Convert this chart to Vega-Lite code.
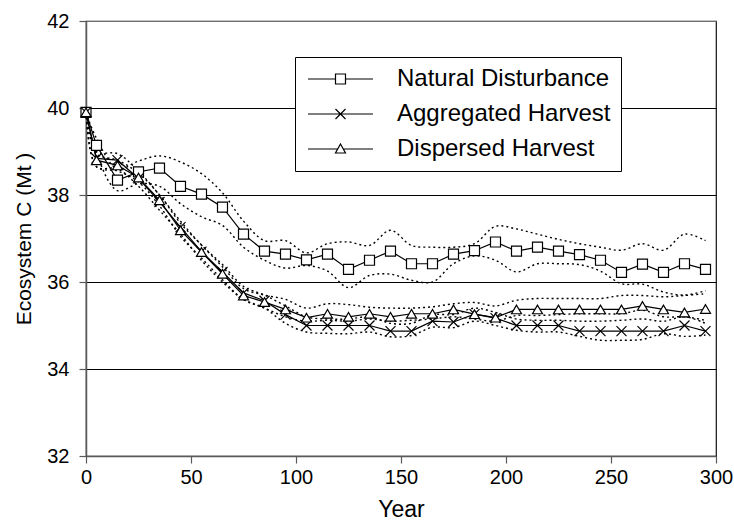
{
  "$schema": "https://vega.github.io/schema/vega-lite/v6.json",
  "width": 630,
  "height": 435,
  "autosize": {"type": "none"},
  "padding": {"left": 86, "top": 21, "right": 18, "bottom": 66},
  "background": "white",
  "config": {
    "view": {"stroke": "#111", "strokeWidth": 1.2},
    "font": "Liberation Sans",
    "axis": {
      "labelFont": "Liberation Sans",
      "titleFont": "Liberation Sans",
      "labelColor": "black",
      "titleColor": "black",
      "titleFontWeight": "normal",
      "domainColor": "#5a5a5a",
      "domainWidth": 1.5,
      "tickColor": "#5a5a5a",
      "tickWidth": 1.2
    }
  },
  "datasets": {
    "series": [
      {"year": 0, "series": "Natural Disturbance", "c": 39.9},
      {"year": 5, "series": "Natural Disturbance", "c": 39.14},
      {"year": 15, "series": "Natural Disturbance", "c": 38.34},
      {"year": 25, "series": "Natural Disturbance", "c": 38.53},
      {"year": 35, "series": "Natural Disturbance", "c": 38.62},
      {"year": 45, "series": "Natural Disturbance", "c": 38.2},
      {"year": 55, "series": "Natural Disturbance", "c": 38.02},
      {"year": 65, "series": "Natural Disturbance", "c": 37.72},
      {"year": 75, "series": "Natural Disturbance", "c": 37.1},
      {"year": 85, "series": "Natural Disturbance", "c": 36.71},
      {"year": 95, "series": "Natural Disturbance", "c": 36.64},
      {"year": 105, "series": "Natural Disturbance", "c": 36.51},
      {"year": 115, "series": "Natural Disturbance", "c": 36.64},
      {"year": 125, "series": "Natural Disturbance", "c": 36.29},
      {"year": 135, "series": "Natural Disturbance", "c": 36.5},
      {"year": 145, "series": "Natural Disturbance", "c": 36.71},
      {"year": 155, "series": "Natural Disturbance", "c": 36.42},
      {"year": 165, "series": "Natural Disturbance", "c": 36.42},
      {"year": 175, "series": "Natural Disturbance", "c": 36.64},
      {"year": 185, "series": "Natural Disturbance", "c": 36.72},
      {"year": 195, "series": "Natural Disturbance", "c": 36.92},
      {"year": 205, "series": "Natural Disturbance", "c": 36.71},
      {"year": 215, "series": "Natural Disturbance", "c": 36.8},
      {"year": 225, "series": "Natural Disturbance", "c": 36.71},
      {"year": 235, "series": "Natural Disturbance", "c": 36.63},
      {"year": 245, "series": "Natural Disturbance", "c": 36.5},
      {"year": 255, "series": "Natural Disturbance", "c": 36.22},
      {"year": 265, "series": "Natural Disturbance", "c": 36.41},
      {"year": 275, "series": "Natural Disturbance", "c": 36.22},
      {"year": 285, "series": "Natural Disturbance", "c": 36.42},
      {"year": 295, "series": "Natural Disturbance", "c": 36.29},

      {"year": 0, "series": "Aggregated Harvest", "c": 39.9},
      {"year": 5, "series": "Aggregated Harvest", "c": 38.84},
      {"year": 15, "series": "Aggregated Harvest", "c": 38.8},
      {"year": 25, "series": "Aggregated Harvest", "c": 38.38},
      {"year": 35, "series": "Aggregated Harvest", "c": 37.84},
      {"year": 45, "series": "Aggregated Harvest", "c": 37.26},
      {"year": 55, "series": "Aggregated Harvest", "c": 36.7},
      {"year": 65, "series": "Aggregated Harvest", "c": 36.23},
      {"year": 75, "series": "Aggregated Harvest", "c": 35.75},
      {"year": 85, "series": "Aggregated Harvest", "c": 35.57},
      {"year": 95, "series": "Aggregated Harvest", "c": 35.25},
      {"year": 105, "series": "Aggregated Harvest", "c": 35.0},
      {"year": 115, "series": "Aggregated Harvest", "c": 35.0},
      {"year": 125, "series": "Aggregated Harvest", "c": 35.0},
      {"year": 135, "series": "Aggregated Harvest", "c": 35.0},
      {"year": 145, "series": "Aggregated Harvest", "c": 34.87},
      {"year": 155, "series": "Aggregated Harvest", "c": 34.87},
      {"year": 165, "series": "Aggregated Harvest", "c": 35.1},
      {"year": 175, "series": "Aggregated Harvest", "c": 35.08},
      {"year": 185, "series": "Aggregated Harvest", "c": 35.26},
      {"year": 195, "series": "Aggregated Harvest", "c": 35.17},
      {"year": 205, "series": "Aggregated Harvest", "c": 35.0},
      {"year": 215, "series": "Aggregated Harvest", "c": 35.0},
      {"year": 225, "series": "Aggregated Harvest", "c": 35.0},
      {"year": 235, "series": "Aggregated Harvest", "c": 34.87},
      {"year": 245, "series": "Aggregated Harvest", "c": 34.87},
      {"year": 255, "series": "Aggregated Harvest", "c": 34.87},
      {"year": 265, "series": "Aggregated Harvest", "c": 34.87},
      {"year": 275, "series": "Aggregated Harvest", "c": 34.87},
      {"year": 285, "series": "Aggregated Harvest", "c": 35.0},
      {"year": 295, "series": "Aggregated Harvest", "c": 34.87},

      {"year": 0, "series": "Dispersed Harvest", "c": 39.9},
      {"year": 5, "series": "Dispersed Harvest", "c": 38.8},
      {"year": 15, "series": "Dispersed Harvest", "c": 38.68},
      {"year": 25, "series": "Dispersed Harvest", "c": 38.4},
      {"year": 35, "series": "Dispersed Harvest", "c": 37.88},
      {"year": 45, "series": "Dispersed Harvest", "c": 37.19},
      {"year": 55, "series": "Dispersed Harvest", "c": 36.69},
      {"year": 65, "series": "Dispersed Harvest", "c": 36.19},
      {"year": 75, "series": "Dispersed Harvest", "c": 35.69},
      {"year": 85, "series": "Dispersed Harvest", "c": 35.54},
      {"year": 95, "series": "Dispersed Harvest", "c": 35.37},
      {"year": 105, "series": "Dispersed Harvest", "c": 35.18},
      {"year": 115, "series": "Dispersed Harvest", "c": 35.27},
      {"year": 125, "series": "Dispersed Harvest", "c": 35.2},
      {"year": 135, "series": "Dispersed Harvest", "c": 35.27},
      {"year": 145, "series": "Dispersed Harvest", "c": 35.2},
      {"year": 155, "series": "Dispersed Harvest", "c": 35.27},
      {"year": 165, "series": "Dispersed Harvest", "c": 35.27},
      {"year": 175, "series": "Dispersed Harvest", "c": 35.37},
      {"year": 185, "series": "Dispersed Harvest", "c": 35.26},
      {"year": 195, "series": "Dispersed Harvest", "c": 35.18},
      {"year": 205, "series": "Dispersed Harvest", "c": 35.37},
      {"year": 215, "series": "Dispersed Harvest", "c": 35.37},
      {"year": 225, "series": "Dispersed Harvest", "c": 35.37},
      {"year": 235, "series": "Dispersed Harvest", "c": 35.37},
      {"year": 245, "series": "Dispersed Harvest", "c": 35.37},
      {"year": 255, "series": "Dispersed Harvest", "c": 35.37},
      {"year": 265, "series": "Dispersed Harvest", "c": 35.45},
      {"year": 275, "series": "Dispersed Harvest", "c": 35.37},
      {"year": 285, "series": "Dispersed Harvest", "c": 35.3},
      {"year": 295, "series": "Dispersed Harvest", "c": 35.38}
    ],
    "bands": [
      {"year": 0, "band": "ND upper", "c": 39.9}, {"year": 5, "band": "ND upper", "c": 39.3}, {"year": 15, "band": "ND upper", "c": 38.6}, {"year": 25, "band": "ND upper", "c": 38.78}, {"year": 35, "band": "ND upper", "c": 38.9}, {"year": 45, "band": "ND upper", "c": 38.76}, {"year": 55, "band": "ND upper", "c": 38.49}, {"year": 65, "band": "ND upper", "c": 38.05}, {"year": 75, "band": "ND upper", "c": 37.4}, {"year": 85, "band": "ND upper", "c": 36.95}, {"year": 95, "band": "ND upper", "c": 36.95}, {"year": 105, "band": "ND upper", "c": 36.67}, {"year": 115, "band": "ND upper", "c": 36.88}, {"year": 125, "band": "ND upper", "c": 36.92}, {"year": 135, "band": "ND upper", "c": 36.84}, {"year": 145, "band": "ND upper", "c": 37.19}, {"year": 155, "band": "ND upper", "c": 36.84}, {"year": 165, "band": "ND upper", "c": 36.8}, {"year": 175, "band": "ND upper", "c": 36.8}, {"year": 185, "band": "ND upper", "c": 36.88}, {"year": 195, "band": "ND upper", "c": 37.28}, {"year": 205, "band": "ND upper", "c": 37.22}, {"year": 215, "band": "ND upper", "c": 37.1}, {"year": 225, "band": "ND upper", "c": 36.98}, {"year": 235, "band": "ND upper", "c": 36.88}, {"year": 245, "band": "ND upper", "c": 36.8}, {"year": 255, "band": "ND upper", "c": 36.73}, {"year": 265, "band": "ND upper", "c": 36.88}, {"year": 275, "band": "ND upper", "c": 36.73}, {"year": 285, "band": "ND upper", "c": 37.1}, {"year": 295, "band": "ND upper", "c": 36.95},

      {"year": 0, "band": "ND lower", "c": 39.9}, {"year": 5, "band": "ND lower", "c": 38.95}, {"year": 15, "band": "ND lower", "c": 38.1}, {"year": 25, "band": "ND lower", "c": 38.26}, {"year": 35, "band": "ND lower", "c": 38.2}, {"year": 45, "band": "ND lower", "c": 37.8}, {"year": 55, "band": "ND lower", "c": 37.5}, {"year": 65, "band": "ND lower", "c": 37.3}, {"year": 75, "band": "ND lower", "c": 36.8}, {"year": 85, "band": "ND lower", "c": 36.5}, {"year": 95, "band": "ND lower", "c": 36.32}, {"year": 105, "band": "ND lower", "c": 36.38}, {"year": 115, "band": "ND lower", "c": 36.25}, {"year": 125, "band": "ND lower", "c": 35.87}, {"year": 135, "band": "ND lower", "c": 36.15}, {"year": 145, "band": "ND lower", "c": 36.18}, {"year": 155, "band": "ND lower", "c": 36.04}, {"year": 165, "band": "ND lower", "c": 36.0}, {"year": 175, "band": "ND lower", "c": 36.42}, {"year": 185, "band": "ND lower", "c": 36.6}, {"year": 195, "band": "ND lower", "c": 36.5}, {"year": 205, "band": "ND lower", "c": 36.23}, {"year": 215, "band": "ND lower", "c": 36.42}, {"year": 225, "band": "ND lower", "c": 36.42}, {"year": 235, "band": "ND lower", "c": 36.4}, {"year": 245, "band": "ND lower", "c": 36.25}, {"year": 255, "band": "ND lower", "c": 35.96}, {"year": 265, "band": "ND lower", "c": 35.95}, {"year": 275, "band": "ND lower", "c": 35.77}, {"year": 285, "band": "ND lower", "c": 35.7}, {"year": 295, "band": "ND lower", "c": 35.8},

      {"year": 0, "band": "AH upper", "c": 39.9}, {"year": 5, "band": "AH upper", "c": 39.0}, {"year": 15, "band": "AH upper", "c": 38.95}, {"year": 25, "band": "AH upper", "c": 38.55}, {"year": 35, "band": "AH upper", "c": 38.0}, {"year": 45, "band": "AH upper", "c": 37.4}, {"year": 55, "band": "AH upper", "c": 36.85}, {"year": 65, "band": "AH upper", "c": 36.4}, {"year": 75, "band": "AH upper", "c": 35.9}, {"year": 85, "band": "AH upper", "c": 35.7}, {"year": 95, "band": "AH upper", "c": 35.45}, {"year": 105, "band": "AH upper", "c": 35.2}, {"year": 115, "band": "AH upper", "c": 35.15}, {"year": 125, "band": "AH upper", "c": 35.15}, {"year": 135, "band": "AH upper", "c": 35.2}, {"year": 145, "band": "AH upper", "c": 35.05}, {"year": 155, "band": "AH upper", "c": 35.05}, {"year": 165, "band": "AH upper", "c": 35.25}, {"year": 175, "band": "AH upper", "c": 35.25}, {"year": 185, "band": "AH upper", "c": 35.4}, {"year": 195, "band": "AH upper", "c": 35.3}, {"year": 205, "band": "AH upper", "c": 35.15}, {"year": 215, "band": "AH upper", "c": 35.12}, {"year": 225, "band": "AH upper", "c": 35.12}, {"year": 235, "band": "AH upper", "c": 35.1}, {"year": 245, "band": "AH upper", "c": 35.1}, {"year": 255, "band": "AH upper", "c": 35.12}, {"year": 265, "band": "AH upper", "c": 35.15}, {"year": 275, "band": "AH upper", "c": 35.1}, {"year": 285, "band": "AH upper", "c": 35.2}, {"year": 295, "band": "AH upper", "c": 35.05},

      {"year": 0, "band": "AH lower", "c": 39.9}, {"year": 5, "band": "AH lower", "c": 38.65}, {"year": 15, "band": "AH lower", "c": 38.6}, {"year": 25, "band": "AH lower", "c": 38.2}, {"year": 35, "band": "AH lower", "c": 37.65}, {"year": 45, "band": "AH lower", "c": 37.1}, {"year": 55, "band": "AH lower", "c": 36.5}, {"year": 65, "band": "AH lower", "c": 36.0}, {"year": 75, "band": "AH lower", "c": 35.6}, {"year": 85, "band": "AH lower", "c": 35.4}, {"year": 95, "band": "AH lower", "c": 35.05}, {"year": 105, "band": "AH lower", "c": 34.85}, {"year": 115, "band": "AH lower", "c": 34.82}, {"year": 125, "band": "AH lower", "c": 34.81}, {"year": 135, "band": "AH lower", "c": 34.85}, {"year": 145, "band": "AH lower", "c": 34.74}, {"year": 155, "band": "AH lower", "c": 34.77}, {"year": 165, "band": "AH lower", "c": 34.96}, {"year": 175, "band": "AH lower", "c": 34.95}, {"year": 185, "band": "AH lower", "c": 35.1}, {"year": 195, "band": "AH lower", "c": 35.0}, {"year": 205, "band": "AH lower", "c": 34.89}, {"year": 215, "band": "AH lower", "c": 34.85}, {"year": 225, "band": "AH lower", "c": 34.85}, {"year": 235, "band": "AH lower", "c": 34.75}, {"year": 245, "band": "AH lower", "c": 34.66}, {"year": 255, "band": "AH lower", "c": 34.66}, {"year": 265, "band": "AH lower", "c": 34.68}, {"year": 275, "band": "AH lower", "c": 34.81}, {"year": 285, "band": "AH lower", "c": 34.75}, {"year": 295, "band": "AH lower", "c": 34.78},

      {"year": 0, "band": "DH upper", "c": 39.9}, {"year": 5, "band": "DH upper", "c": 38.95}, {"year": 15, "band": "DH upper", "c": 38.8}, {"year": 25, "band": "DH upper", "c": 38.5}, {"year": 35, "band": "DH upper", "c": 38.0}, {"year": 45, "band": "DH upper", "c": 37.35}, {"year": 55, "band": "DH upper", "c": 36.85}, {"year": 65, "band": "DH upper", "c": 36.35}, {"year": 75, "band": "DH upper", "c": 35.85}, {"year": 85, "band": "DH upper", "c": 35.7}, {"year": 95, "band": "DH upper", "c": 35.6}, {"year": 105, "band": "DH upper", "c": 35.4}, {"year": 115, "band": "DH upper", "c": 35.5}, {"year": 125, "band": "DH upper", "c": 35.48}, {"year": 135, "band": "DH upper", "c": 35.42}, {"year": 145, "band": "DH upper", "c": 35.4}, {"year": 155, "band": "DH upper", "c": 35.4}, {"year": 165, "band": "DH upper", "c": 35.43}, {"year": 175, "band": "DH upper", "c": 35.5}, {"year": 185, "band": "DH upper", "c": 35.53}, {"year": 195, "band": "DH upper", "c": 35.45}, {"year": 205, "band": "DH upper", "c": 35.58}, {"year": 215, "band": "DH upper", "c": 35.62}, {"year": 225, "band": "DH upper", "c": 35.62}, {"year": 235, "band": "DH upper", "c": 35.62}, {"year": 245, "band": "DH upper", "c": 35.62}, {"year": 255, "band": "DH upper", "c": 35.69}, {"year": 265, "band": "DH upper", "c": 35.69}, {"year": 275, "band": "DH upper", "c": 35.66}, {"year": 285, "band": "DH upper", "c": 35.69}, {"year": 295, "band": "DH upper", "c": 35.73},

      {"year": 0, "band": "DH lower", "c": 39.9}, {"year": 5, "band": "DH lower", "c": 38.65}, {"year": 15, "band": "DH lower", "c": 38.55}, {"year": 25, "band": "DH lower", "c": 38.3}, {"year": 35, "band": "DH lower", "c": 37.75}, {"year": 45, "band": "DH lower", "c": 37.05}, {"year": 55, "band": "DH lower", "c": 36.55}, {"year": 65, "band": "DH lower", "c": 36.05}, {"year": 75, "band": "DH lower", "c": 35.6}, {"year": 85, "band": "DH lower", "c": 35.4}, {"year": 95, "band": "DH lower", "c": 35.2}, {"year": 105, "band": "DH lower", "c": 35.1}, {"year": 115, "band": "DH lower", "c": 35.12}, {"year": 125, "band": "DH lower", "c": 35.1}, {"year": 135, "band": "DH lower", "c": 35.15}, {"year": 145, "band": "DH lower", "c": 35.1}, {"year": 155, "band": "DH lower", "c": 35.12}, {"year": 165, "band": "DH lower", "c": 35.15}, {"year": 175, "band": "DH lower", "c": 35.2}, {"year": 185, "band": "DH lower", "c": 35.15}, {"year": 195, "band": "DH lower", "c": 35.1}, {"year": 205, "band": "DH lower", "c": 35.23}, {"year": 215, "band": "DH lower", "c": 35.23}, {"year": 225, "band": "DH lower", "c": 35.25}, {"year": 235, "band": "DH lower", "c": 35.27}, {"year": 245, "band": "DH lower", "c": 35.27}, {"year": 255, "band": "DH lower", "c": 35.27}, {"year": 265, "band": "DH lower", "c": 35.35}, {"year": 275, "band": "DH lower", "c": 35.2}, {"year": 285, "band": "DH lower", "c": 35.2}, {"year": 295, "band": "DH lower", "c": 35.12}
    ]
  },
  "encoding": {
    "x": {
      "field": "year",
      "type": "quantitative",
      "scale": {"domain": [0, 300], "nice": false},
      "axis": {
        "title": "Year",
        "values": [0, 50, 100, 150, 200, 250, 300],
        "grid": false,
        "tickSize": 7,
        "labelFontSize": 20,
        "labelPadding": 4,
        "titleFontSize": 23,
        "titlePadding": 11,
        "labelFlush": false
      }
    },
    "y": {
      "field": "c",
      "type": "quantitative",
      "scale": {"domain": [32, 42], "nice": false, "zero": false},
      "axis": {
        "title": "Ecosystem C (Mt )",
        "values": [32, 34, 36, 38, 40, 42],
        "grid": true,
        "gridColor": {"condition": {"test": "datum.value == 42", "value": "#6e6e6e"}, "value": "black"},
        "gridWidth": 1.2,
        "gridOpacity": 1,
        "tickSize": 7,
        "labelFontSize": 20,
        "labelPadding": 10,
        "titleFontSize": 21,
        "titlePadding": 12
      }
    }
  },
  "layer": [
    {
      "data": {"name": "bands"},
      "mark": {"type": "line", "interpolate": "catmull-rom", "color": "black", "strokeWidth": 1.4, "strokeDash": [2, 3]},
      "encoding": {"detail": {"field": "band", "type": "nominal"}}
    },
    {
      "data": {"name": "series"},
      "mark": {"type": "line", "color": "black", "strokeWidth": 1.2},
      "encoding": {"detail": {"field": "series", "type": "nominal"}}
    },
    {
      "data": {"name": "series"},
      "mark": {"type": "point", "filled": true, "fill": "white", "stroke": "black", "strokeWidth": 1.2, "size": 100, "opacity": 1},
      "encoding": {
        "shape": {
          "field": "series",
          "type": "nominal",
          "scale": {
            "domain": ["Natural Disturbance", "Aggregated Harvest", "Dispersed Harvest"],
            "range": ["square", "M-1,-1L1,1M-1,1L1,-1", "triangle-up"]
          },
          "legend": null
        }
      }
    },
    {
      "data": {"name": "series"},
      "transform": [{"filter": "false"}],
      "mark": {"type": "point", "filled": false, "stroke": "black", "strokeWidth": 1.2, "size": 100, "opacity": 1},
      "encoding": {
        "shape": {
          "field": "series",
          "type": "nominal",
          "scale": {
            "domain": ["Natural Disturbance", "Aggregated Harvest", "Dispersed Harvest"],
            "range": [
              "M-1.8,0H3.7M5.7,0H11.2M3.7,-1H5.7V1H3.7Z",
              "M-1.8,0H11.2M3.7,-1L5.7,1M3.7,1L5.7,-1",
              "M-1.8,0H4.14M5.26,0H11.2M4.7,-1L5.7,0.8H3.7Z"
            ]
          },
          "legend": {
            "title": null,
            "orient": "none",
            "legendX": 209,
            "legendY": 36,
            "padding": 10,
            "rowPadding": 11,
            "labelOffset": 68,
            "labelFont": "Liberation Sans",
            "labelFontSize": 24,
            "labelColor": "black",
            "labelLimit": 400,
            "strokeColor": "black",
            "fillColor": "white",
            "symbolSize": 100,
            "symbolStrokeWidth": 1.2,
            "symbolStrokeColor": "black",
            "symbolFillColor": "white",
            "symbolOpacity": 1,
            "encode": {
              "symbols": {
                "update": {
                  "stroke": {"value": "black"},
                  "fill": {"value": "white"},
                  "opacity": {"value": 1},
                  "strokeWidth": {"value": 1.2}
                }
              }
            }
          }
        }
      }
    }
  ],
  "resolve": {"scale": {"shape": "independent"}, "legend": {"shape": "independent"}}
}
